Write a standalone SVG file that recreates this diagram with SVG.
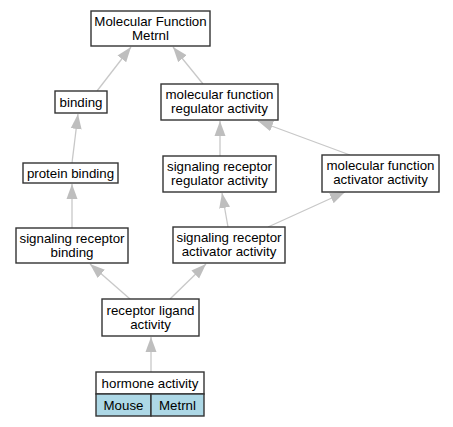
<svg xmlns="http://www.w3.org/2000/svg" width="453" height="427" viewBox="0 0 453 427">
<style>
.n rect{fill:#fff;stroke:#333;stroke-width:1.4}
.n text{font-family:"Liberation Sans",Arial,sans-serif;font-size:13.3px;fill:#000;text-anchor:middle}
#edges line{stroke:#c8c8c8;stroke-width:1.3;marker-end:url(#ah)}
rect.blue{fill:#add8e6}
</style>
<defs>
<marker id="ah" markerUnits="userSpaceOnUse" markerWidth="16" markerHeight="12" viewBox="0 0 16 12" refX="15" refY="6" orient="auto">
<path d="M0,0.5 L15,6 L0,11.5 z" fill="#bebebe"/>
</marker>
</defs>
<rect width="453" height="427" fill="#fff"/>
<g id="edges">
<line x1="97" y1="91" x2="131" y2="47"/>
<line x1="203" y1="84" x2="173" y2="47"/>
<line x1="72" y1="163" x2="78" y2="114"/>
<line x1="220" y1="156" x2="220" y2="121"/>
<line x1="350" y1="155" x2="258" y2="121"/>
<line x1="72" y1="228" x2="72" y2="184"/>
<line x1="228" y1="227" x2="222" y2="193"/>
<line x1="268" y1="227" x2="345" y2="192"/>
<line x1="130" y1="299" x2="90" y2="264"/>
<line x1="170" y1="299" x2="206" y2="264"/>
<line x1="151" y1="372" x2="151" y2="337"/>
</g>
<g id="n_mf" class="n"><rect x="91" y="11" width="119" height="35"/><text x="150.5" y="26">Molecular Function</text><text x="150.5" y="40">Metrnl</text></g>
<g id="n_binding" class="n"><rect x="55" y="91" width="52" height="22"/><text x="81" y="106.5">binding</text></g>
<g id="n_mfra" class="n"><rect x="161" y="84" width="117" height="36"/><text x="219.5" y="99">molecular function</text><text x="219.5" y="113">regulator activity</text></g>
<g id="n_pb" class="n"><rect x="23" y="163" width="95" height="20"/><text x="70.5" y="177.5">protein binding</text></g>
<g id="n_srra" class="n"><rect x="163" y="156" width="113" height="36"/><text x="219.5" y="171">signaling receptor</text><text x="219.5" y="185">regulator activity</text></g>
<g id="n_mfaa" class="n"><rect x="322" y="155" width="117" height="37"/><text x="380.5" y="170">molecular function</text><text x="380.5" y="184">activator activity</text></g>
<g id="n_srb" class="n"><rect x="16" y="228" width="112" height="35"/><text x="72" y="243">signaling receptor</text><text x="72" y="257">binding</text></g>
<g id="n_sraa" class="n"><rect x="173" y="227" width="112" height="36"/><text x="229" y="242">signaling receptor</text><text x="229" y="256">activator activity</text></g>
<g id="n_rla" class="n"><rect x="102" y="299" width="97" height="37"/><text x="150.5" y="315">receptor ligand</text><text x="150.5" y="329">activity</text></g>
<g id="n_hormone" class="n"><rect x="96" y="372" width="108" height="22"/><text x="150" y="387.5">hormone activity</text>
<rect class="blue" x="96" y="394" width="55" height="22"/><text x="123.5" y="409.5">Mouse</text>
<rect class="blue" x="151" y="394" width="53" height="22"/><text x="177.5" y="409.5">Metrnl</text></g>
</svg>
